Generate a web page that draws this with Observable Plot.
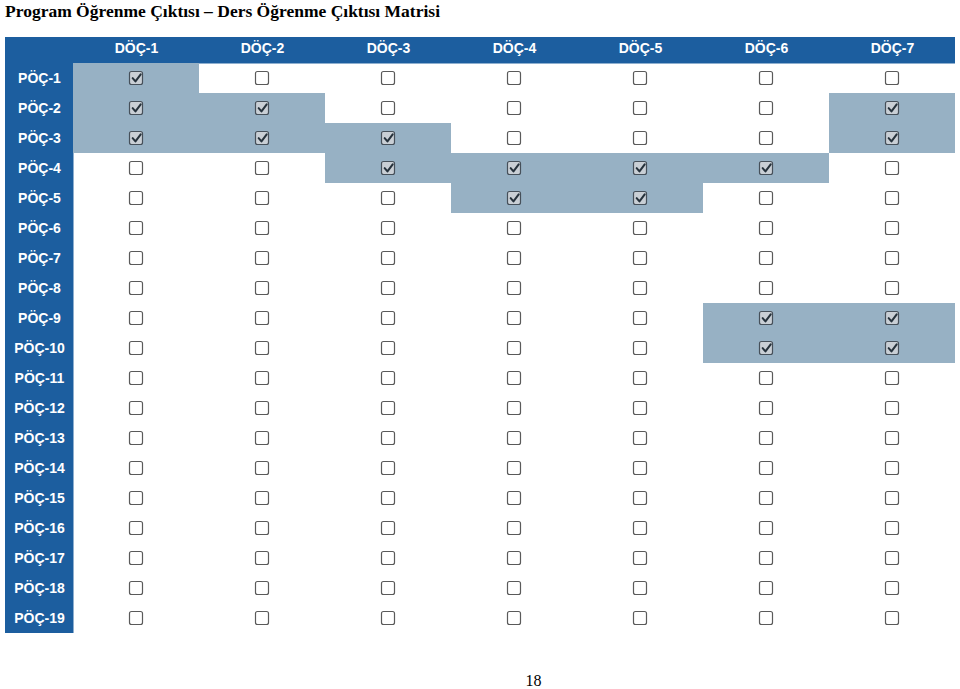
<!DOCTYPE html>
<html>
<head>
<meta charset="utf-8">
<script src="https://cdn.jsdelivr.net/npm/d3@7"></script>
<script src="https://cdn.jsdelivr.net/npm/@observablehq/plot@0.6"></script>
<style>
  html, body { margin: 0; padding: 0; background: #fff; width: 960px; height: 689px; overflow: hidden; }
  #title { position: absolute; left: 5px; top: 1px; font-family: "Liberation Serif", "Times New Roman", serif; font-weight: bold; font-size: 17.5px; color: #000; white-space: nowrap; }
  #chart { position: absolute; left: 5px; top: 37px; }
  #page { position: absolute; left: 0; width: 1067px; top: 672px; text-align: center; font-family: "Liberation Serif", "Times New Roman", serif; font-size: 16px; color: #000; }
</style>
</head>
<body>
<div id="title">Program Öğrenme Çıktısı – Ders Öğrenme Çıktısı Matrisi</div>
<div id="chart"></div>
<div id="page">18</div>
<script>
// Columns (course outcomes) and rows (program outcomes)
const docLabels = ["DÖÇ-1", "DÖÇ-2", "DÖÇ-3", "DÖÇ-4", "DÖÇ-5", "DÖÇ-6", "DÖÇ-7"];
const pocLabels = ["PÖÇ-1", "PÖÇ-2", "PÖÇ-3", "PÖÇ-4", "PÖÇ-5", "PÖÇ-6", "PÖÇ-7", "PÖÇ-8", "PÖÇ-9", "PÖÇ-10",
  "PÖÇ-11", "PÖÇ-12", "PÖÇ-13", "PÖÇ-14", "PÖÇ-15", "PÖÇ-16", "PÖÇ-17", "PÖÇ-18", "PÖÇ-19"];
// Checked course outcomes (1-based column numbers) for each program outcome row
const checkedCols = [
  [1], [1, 2, 7], [1, 2, 3, 7], [3, 4, 5, 6], [4, 5], [], [], [], [6, 7], [6, 7],
  [], [], [], [], [], [], [], [], []
];

const cells = [];
pocLabels.forEach((p, i) => {
  docLabels.forEach((d, j) => {
    cells.push({poc: p, doc: d, checked: checkedCols[i].includes(j + 1)});
  });
});
const checkedCells = cells.filter(c => c.checked);

const headerBlue = "#1c5e9f";
const cellGray = "#97b1c4";

const checkSymbol = {
  draw(context, size) {
    const r = Math.sqrt(size / Math.PI);
    context.moveTo(-0.55 * r, -0.05 * r);
    context.lineTo(-0.15 * r, 0.42 * r);
    context.lineTo(0.6 * r, -0.6 * r);
  }
};

const chart = Plot.plot({
  width: 950,
  height: 596,
  marginTop: 26,
  marginLeft: 68,
  marginRight: 0,
  marginBottom: 0,
  style: {background: headerBlue, fontFamily: "'Liberation Sans', Arial, sans-serif", overflow: "visible"},
  x: {domain: docLabels, padding: 0, axis: null},
  y: {domain: pocLabels, padding: 0, axis: null},
  marks: [
    Plot.frame({fill: "white", stroke: null}),
    Plot.cell(checkedCells, {x: "doc", y: "poc", fill: cellGray, inset: 0}),
    Plot.cell(cells, {
      x: "doc", y: "poc",
      fill: d => d.checked ? "#c9cfd5" : "white",
      stroke: d => d.checked ? "#46505a" : "#5a5a5a",
      strokeWidth: 1.2,
      rx: 2,
      insetLeft: 56.5, insetRight: 56.5, insetTop: 8.5, insetBottom: 8.5
    }),
    Plot.dot(checkedCells, {
      x: "doc", y: "poc",
      symbol: checkSymbol, r: 7,
      fill: "none", stroke: "#26323c", strokeWidth: 2, strokeLinecap: "round", strokeLinejoin: "round"
    }),
    Plot.text(docLabels, {
      x: d => d, frameAnchor: "top", dy: -14.5, lineAnchor: "middle",
      fill: "white", fontWeight: "bold", fontSize: 14
    }),
    Plot.text(pocLabels, {
      y: d => d, frameAnchor: "left", dx: -34, textAnchor: "middle",
      fill: "white", fontWeight: "bold", fontSize: 14
    })
  ]
});
document.getElementById("chart").appendChild(chart);
</script>
</body>
</html>
